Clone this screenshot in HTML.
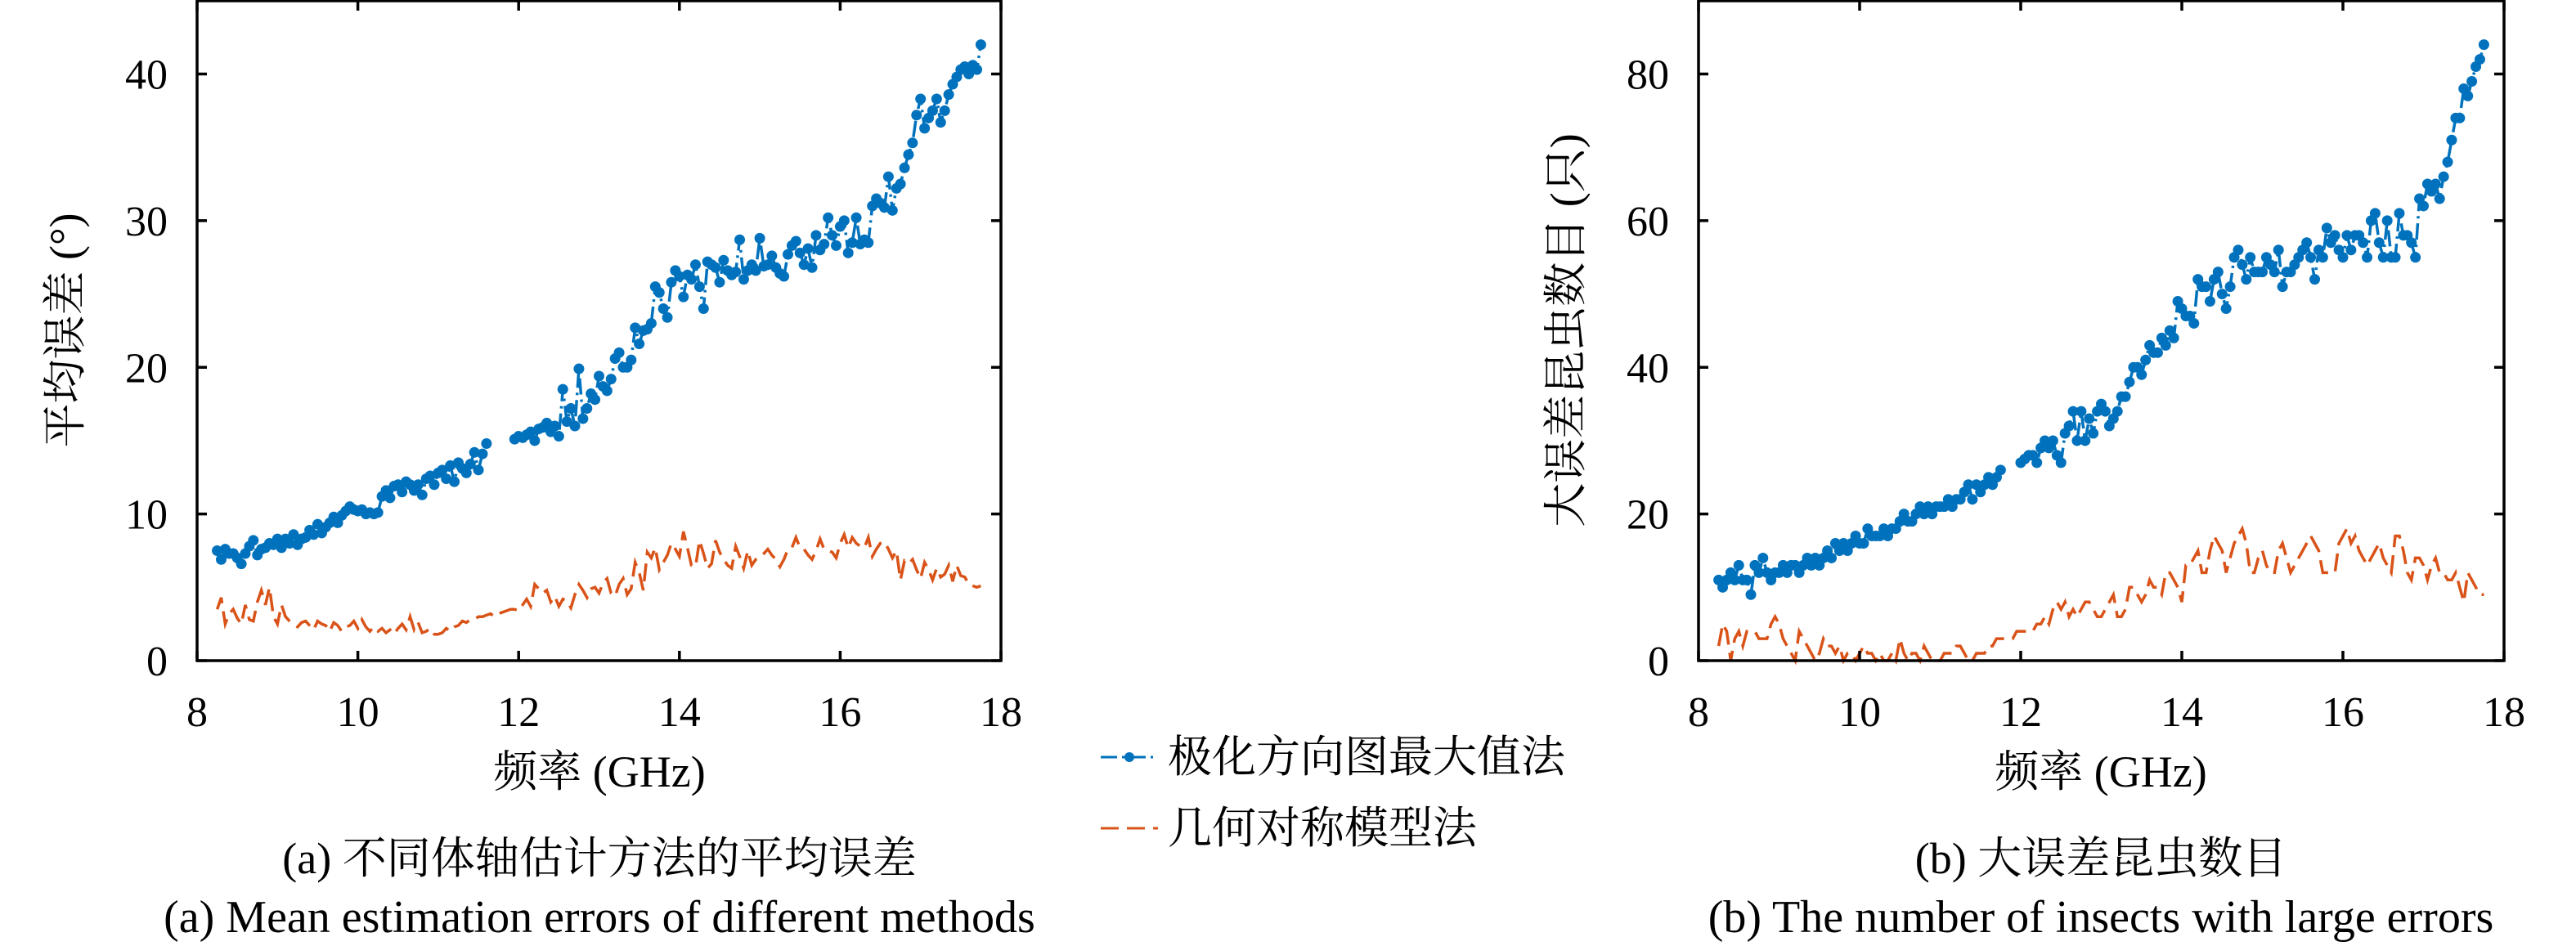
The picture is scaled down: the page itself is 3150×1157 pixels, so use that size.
<!DOCTYPE html>
<html><head><meta charset="utf-8"><style>
html,body{margin:0;padding:0;background:#fff;}
svg{display:block;}
text{font-family:"Liberation Serif","Noto Serif CJK SC",serif;fill:#000;}
</style></head><body>
<svg id="svg" width="3150" height="1157" viewBox="0 0 3150 1157" xmlns="http://www.w3.org/2000/svg">
<g id="plotA"></g>
<g id="plotB"></g>
<text x="733" y="962" font-size="54" text-anchor="middle">频率 (GHz)</text>
<text x="2569" y="962" font-size="54" text-anchor="middle">频率 (GHz)</text>
<text transform="translate(98,404) rotate(-90)" font-size="54" text-anchor="middle">平均误差 (°)</text>
<text transform="translate(1933,404) rotate(-90)" font-size="54" text-anchor="middle">大误差昆虫数目 (只)</text>
<text x="733" y="1068" font-size="54" text-anchor="middle">(a) 不同体轴估计方法的平均误差</text>
<text x="733" y="1140" font-size="56" text-anchor="middle">(a) Mean estimation errors of different methods</text>
<text x="2569" y="1068" font-size="54" text-anchor="middle">(b) 大误差昆虫数目</text>
<text x="2569" y="1140" font-size="56" text-anchor="middle">(b) The number of insects with large errors</text>
<g>
  <g>
    <line x1="1346" y1="926" x2="1416" y2="926" stroke="#0072BD" stroke-width="3" stroke-dasharray="20,6,3,6"/>
    <circle cx="1381" cy="926" r="6" fill="#0072BD"/>
    <text x="1428" y="944" font-size="54">极化方向图最大值法</text>
  </g>
  <g>
    <line x1="1346" y1="1013" x2="1416" y2="1013" stroke="#D95319" stroke-width="3" stroke-dasharray="22,10"/>
    <text x="1428" y="1031" font-size="54">几何对称模型法</text>
  </g>
</g>
</svg>
<script>
const freqStart = 8.25, freqStep = 0.05;
const blueA = [7.5,6.9,7.6,7.3,7.3,7.0,6.6,7.3,7.8,8.2,7.2,7.6,7.7,8.0,7.9,8.3,
7.7,8.3,8.0,8.6,7.9,8.3,8.4,8.9,8.6,9.3,8.7,9.1,9.4,9.8,9.4,
9.9,10.2,10.5,10.3,10.2,10.3,10.0,10.1,10.0,10.1,11.2,11.6,11.1,11.9,12.0,
11.5,12.2,12.0,11.6,12.0,11.3,12.4,12.6,12.0,12.8,13.0,12.4,13.3,12.2,13.5,
13.1,12.8,13.4,14.2,13.0,14.1,14.8,null,null,null,null,null,null,15.1,15.3,
15.2,15.4,15.6,15.0,15.8,15.9,16.2,15.6,16.0,15.3,18.5,16.3,17.2,16.0,19.9,
16.5,17.2,18.2,17.8,19.4,18.7,18.4,19.2,20.6,21.0,20.0,20.0,20.5,22.7,21.6,
22.5,22.6,23.0,25.5,25.1,24.0,23.4,25.8,26.6,26.2,24.8,26.3,26.0,27.0,25.5,
24.0,27.2,27.0,26.8,25.8,27.3,26.6,26.3,26.5,28.7,26.0,26.6,27.0,26.6,28.8,
26.9,27.0,27.6,26.8,26.4,26.2,27.7,28.3,28.6,27.8,27.0,28.1,26.8,29.0,28.0,
28.4,30.2,29.0,28.3,29.6,30.0,27.8,28.5,30.2,28.4,28.7,28.5,31.0,31.5,31.2,
30.9,33.0,30.7,32.2,32.5,33.6,34.5,35.3,37.2,38.3,36.3,37.0,37.5,38.3,36.7,
37.5,38.6,39.3,39.8,40.3,40.5,40.0,40.6,40.3,42.0];
const redA = [3.5,4.3,2.5,3.2,3.5,2.9,2.5,3.8,2.8,2.7,4.0,4.8,3.8,5.0,3.0,2.5,
3.8,3.0,2.7,2.5,2.3,2.6,2.7,2.4,2.1,2.7,2.5,2.4,2.0,2.6,2.4,
2.0,2.3,2.4,2.7,2.2,2.8,2.3,2.0,2.3,2.0,2.2,1.9,2.1,1.8,2.2,
2.5,2.1,3.0,2.1,2.6,1.9,2.0,2.2,1.8,1.8,1.9,2.2,2.0,2.3,2.4,
2.7,2.6,2.8,2.8,3.0,3.0,3.1,3.2,3.0,3.2,3.3,3.4,3.5,3.5,3.4,
3.8,4.2,3.7,5.2,4.9,4.6,4.8,4.0,4.4,3.7,4.2,4.1,3.6,4.5,5.2,
4.8,4.3,4.9,5.0,4.6,5.3,5.6,4.6,4.4,5.2,5.6,4.5,4.9,6.7,6.0,
4.8,7.4,7.0,7.7,6.2,6.7,7.2,8.0,7.6,7.1,8.8,7.7,6.5,6.4,8.2,
7.3,6.3,6.6,8.2,7.4,6.9,6.5,6.3,7.8,7.1,6.3,7.5,6.5,6.9,7.0,
7.3,7.6,7.2,6.9,6.4,6.9,7.6,7.7,8.4,7.7,7.6,7.2,6.9,7.5,8.3,
7.6,7.5,7.4,7.0,8.0,8.6,7.7,8.4,8.0,7.8,7.7,8.4,7.1,7.6,8.0,
8.1,7.6,7.0,7.5,5.5,6.8,6.6,6.9,6.2,5.6,6.7,6.2,5.5,6.3,5.7,
5.9,6.5,5.4,6.5,5.8,5.7,5.2,5.1,5.0,5.1];
const blueB = [11,10,11,12,11,13,11,11,9,13,12,14,12,11,12,12,
13,12,13,13,12,13,14,13,14,13,14,15,14,16,15,
16,15,16,17,16,16,18,17,17,17,18,17,18,18,19,
20,19,19,20,21,20,21,20,21,21,21,22,21,22,22,
23,24,22,24,23,24,25,24,25,26,null,null,null,null,27,
27.5,28,28,27,29,30,29,30,28,27,31,32,34,30,34,
30,33,31,34,35,34,32,33,34,36,36,38,40,40,39,
41,43,42,42,44,43,45,44,49,48,47,47,46,52,51,
51,49,52,53,50,48,51,55,56,54,52,55,53,53,53,
55,54,53,56,51,53,53,54,55,56,57,55,52,56,55,
59,57,58,56,55,58,56,58,58,57,55,60,61,57,55,
60,55,55,61,58,58,57,55,63,62,65,64,65,63,66,
68,71,74,74,78,77,79,81,82,84];
const redB = [2,5,4,0,3,4,2,4,4,4,3,3,3,5,6,5,
3,2,1,0,4,3,2,1,0,1,3,2,2,1,2,
0,1,1,0,1,2,1,1,0,1,0,0,1,0,3,
1,0,1,1,0,2,1,0,0,0,1,1,1,2,2,
1,0,0,1,1,1,2,2,3,3,3,3,3,4,4,
4,4,4,5,5,6,5,7,8,7,8,6,7,6,7,
8,8,7,6,6,7,8,9,6,6,7,10,10,9,8,
9,11,10,10,9,12,12,11,10,8,13,13,14,15,12,
12,15,17,16,15,12,14,16,17,18,16,12,12,14,15,
13,12,12,15,16,14,12,13,14,15,16,17,16,15,12,
12,12,12,16,17,18,16,17,15,14,13,14,15,16,14,
13,12,17,17,15,12,11,14,14,13,11,13,14,12,12,
11,11,12,10,8,12,11,10,9,9];
const xTicks = [8,10,12,14,16,18];
const yTicksA = [0,10,20,30,40];
const yTicksB = [0,20,40,60,80];

const NS = "http://www.w3.org/2000/svg";
function mk(tag, attrs, parent){const e=document.createElementNS(NS,tag);for(const k in attrs)e.setAttribute(k,attrs[k]);parent.appendChild(e);return e;}

function drawPlot(g, L, R, yTicks, blue, red, key){
  const T=1, B=808, TOPTICK=90.5;
  const yTop = yTicks[yTicks.length-1];
  const xs = v => L + (v-8)/(18-8)*(R-L);
  const yScale = v => B - v/yTop*(B-TOPTICK);
  function path(arr){let d="",pen=false;arr.forEach((v,i)=>{if(v===null){pen=false;return;}const x=xs(freqStart+i*freqStep),y=yScale(v);d+=(pen?"L":"M")+x.toFixed(1)+","+y.toFixed(1);pen=true;});return d;}
  const rp = mk("path",{d:path(red),fill:"none",stroke:"#D95319","stroke-width":3.5,"stroke-dasharray":"22,10"},g);
  
  
  const bp = mk("path",{d:path(blue),fill:"none",stroke:"#0072BD","stroke-width":3.5,"stroke-dasharray":"20,6,3,6"},g);
  
  
  blue.forEach((v,i)=>{ if(v===null) return;
    const c = mk("circle",{cx:xs(freqStart+i*freqStep),cy:yScale(v),r:6.5,fill:"#0072BD"},g);
    
    
  });
  const box = mk("rect",{x:L,y:T,width:R-L,height:B-T,fill:"none",stroke:"#000","stroke-width":3.5},g);
  
  
  xTicks.forEach(t=>{const x=xs(t);
    mk("line",{x1:x,y1:B,x2:x,y2:B-12,stroke:"#000","stroke-width":3.5},g);
    mk("line",{x1:x,y1:T,x2:x,y2:T+12,stroke:"#000","stroke-width":3.5},g);
    const tx = mk("text",{x:x,y:888,"font-size":52,"text-anchor":"middle"},g);
    tx.textContent=t;
    
    
  });
  yTicks.forEach(t=>{const y=yScale(t);
    mk("line",{x1:L,y1:y,x2:L+12,y2:y,stroke:"#000","stroke-width":3.5},g);
    mk("line",{x1:R,y1:y,x2:R-12,y2:y,stroke:"#000","stroke-width":3.5},g);
    const tx = mk("text",{x:L-36,y:y+18,"font-size":52,"text-anchor":"end"},g);
    tx.textContent=t;
    
    
  });
}
drawPlot(document.getElementById("plotA"),241,1224,yTicksA,blueA,redA,"a");
drawPlot(document.getElementById("plotB"),2077,3062,yTicksB,blueB,redB,"b");
</script>
</body></html>
